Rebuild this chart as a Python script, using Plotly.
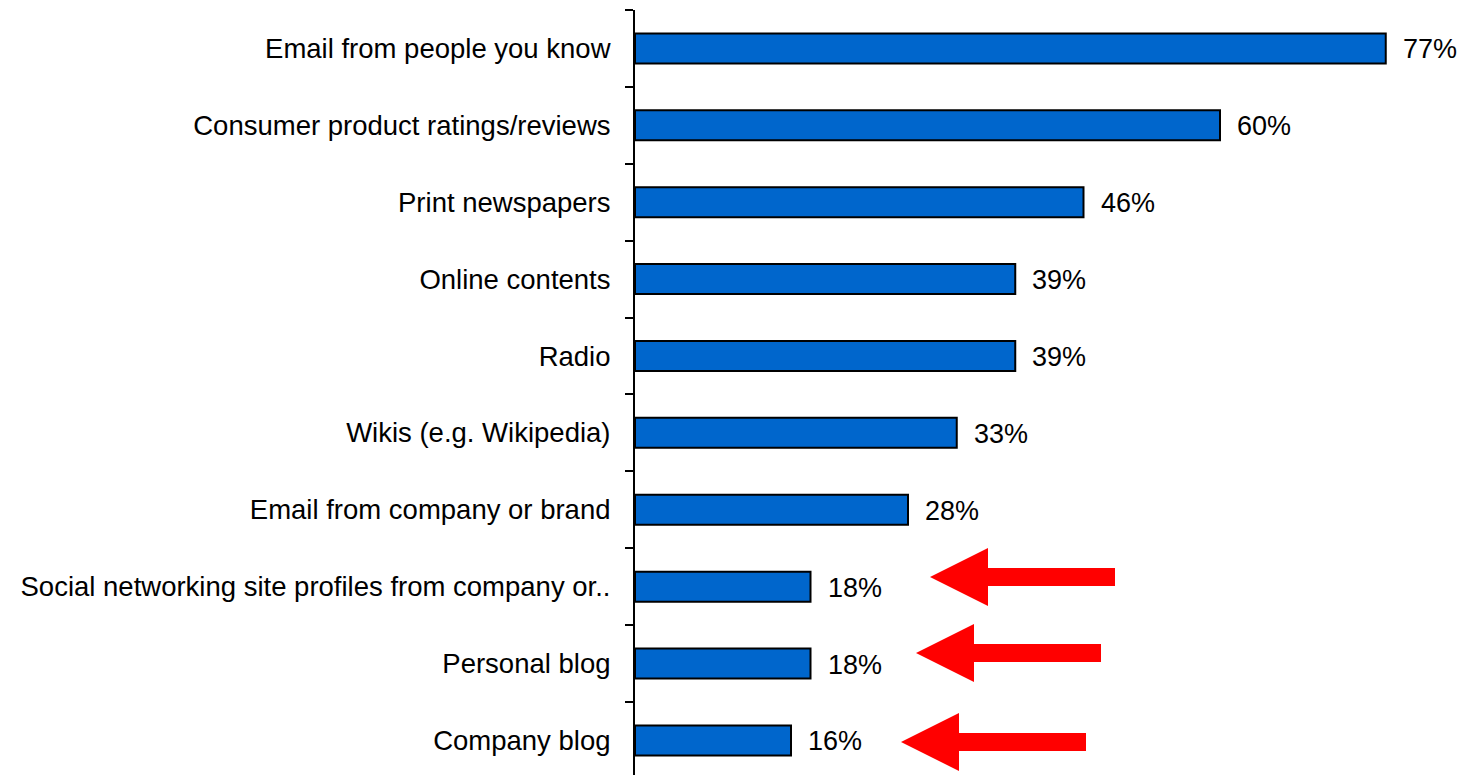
import plotly.graph_objects as go

categories = [
    "Email from people you know",
    "Consumer product ratings/reviews",
    "Print newspapers",
    "Online contents",
    "Radio",
    "Wikis (e.g. Wikipedia)",
    "Email from company or brand",
    "Social networking site profiles from company or..",
    "Personal blog",
    "Company blog",
]
values = [77, 60, 46, 39, 39, 33, 28, 18, 18, 16]
value_labels = ["77%", "60%", "46%", "39%", "39%", "33%", "28%", "18%", "18%", "16%"]

OFF = 8  # default page body margin
W, H = 1465 - OFF, 775 - OFF
L, T = 635 - OFF, 10 - OFF
PW, PH = W - L, H - T
FONT = "Liberation Sans Narrow, Arial Narrow, Liberation Sans, Arial, sans-serif"

fig = go.Figure()
fig.add_trace(go.Bar(
    y=categories, x=values, orientation="h",
    marker=dict(color="#0066CC", line=dict(color="black", width=2)),
    width=0.39, hoverinfo="skip",
))

annotations = []
for c, v, t in zip(categories, values, value_labels):
    annotations.append(dict(x=v, y=c, xref="x", yref="y", text=t, showarrow=False,
                            xanchor="left", xshift=15, yshift=-1,
                            font=dict(family=FONT, size=27, color="black")))

# red block arrows (page pixel coordinates: tip x, center y, tail x)
arrows_px = [(930, 577, 1115), (916, 653, 1101), (901, 742, 1086)]

def px2p(px, py):
    return (px - OFF - L) / PW, 1 - (py - OFF - T) / PH

shapes = []
for tipx, cy, tailx in arrows_px:
    headx = tipx + 58
    pts = [(tipx, cy), (headx, cy - 29), (headx, cy - 9), (tailx, cy - 9),
           (tailx, cy + 9), (headx, cy + 9), (headx, cy + 29)]
    pp = [px2p(a, b) for a, b in pts]
    path = "M " + " L ".join(f"{a:.5f},{b:.5f}" for a, b in pp) + " Z"
    shapes.append(dict(type="path", xref="paper", yref="paper", path=path,
                       fillcolor="#FF0000", line=dict(width=0)))

fig.update_layout(
    width=W, height=H,
    margin=dict(l=L, r=0, t=T, b=0, pad=0, autoexpand=False),
    paper_bgcolor="white", plot_bgcolor="white",
    showlegend=False,
    annotations=annotations,
    shapes=shapes,
    xaxis=dict(range=[0, PW / 9.75], visible=False, fixedrange=True, automargin=False),
    yaxis=dict(
        type="category", categoryorder="array", categoryarray=categories,
        range=[9.45, -0.5], automargin=False,
        showline=True, linecolor="black", linewidth=2,
        ticks="outside", tickson="boundaries", ticklen=8, tickwidth=2, tickcolor="black",
        showgrid=False, zeroline=False,
        tickfont=dict(family=FONT, size=27.5, color="black"),
        ticklabelstandoff=17,
    ),
)

fig.write_html("out.html")
